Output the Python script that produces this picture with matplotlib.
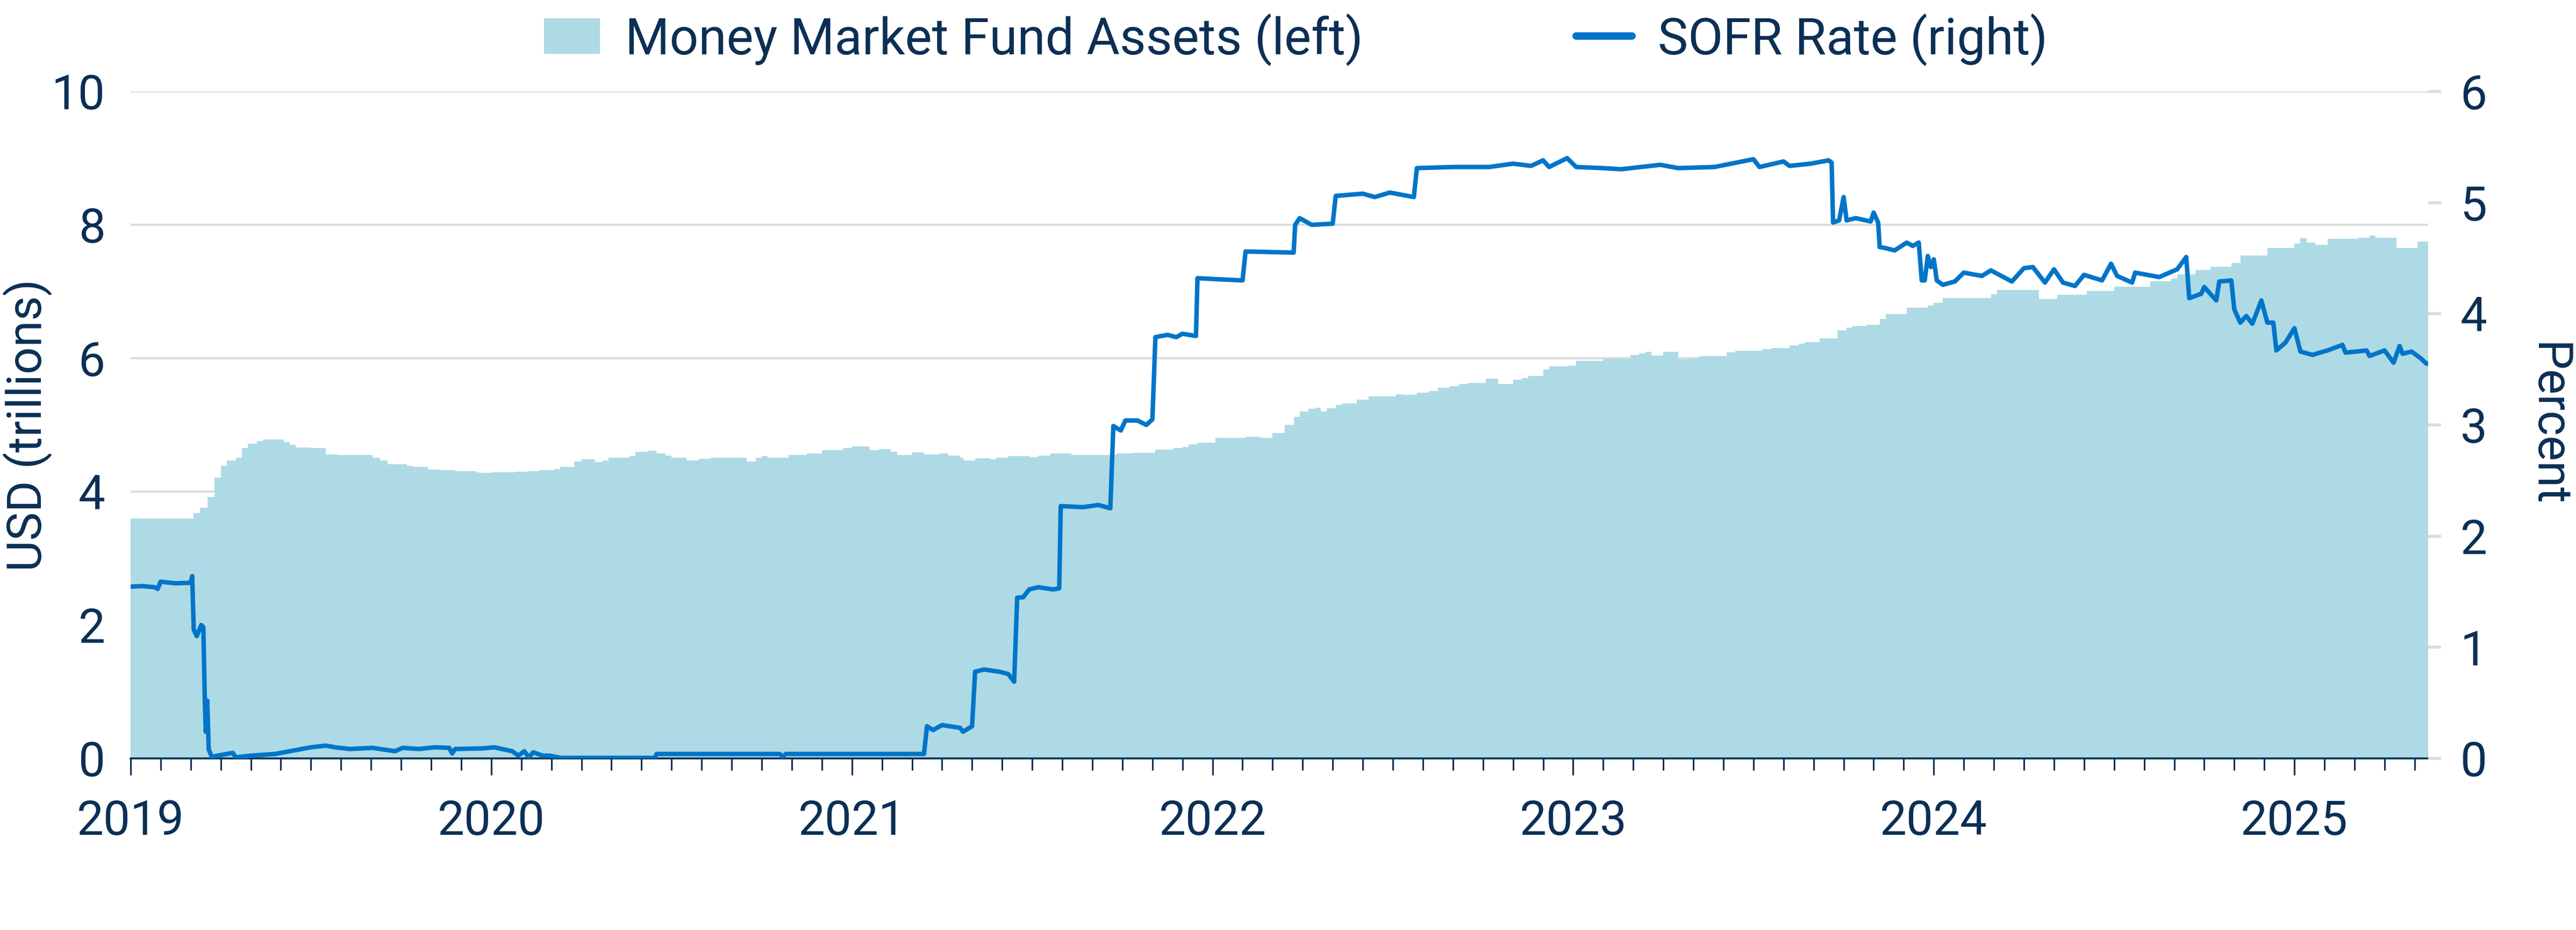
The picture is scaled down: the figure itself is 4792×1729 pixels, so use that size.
import numpy as np
import matplotlib
matplotlib.use("Agg")
import matplotlib.pyplot as plt
from matplotlib.ticker import FixedLocator, MultipleLocator

plt.rcParams['font.family'] = ['Roboto', 'DejaVu Sans']

NAVY = '#0b2f55'
AREA = '#aedae5'
LINE = '#0075c9'
GRID = '#dcdcdc'

# x values are months since Jan 2019
mmf_month = [0.0, 2.1, 2.3, 2.55, 2.8, 3.0, 3.2, 3.5, 3.7, 3.9, 4.2, 4.4, 5.1, 5.3, 5.5,
             6.0, 6.5, 6.9, 8.05, 8.3, 8.55, 9.2, 9.4, 9.9, 10.3, 10.8, 11.5, 11.6,
             12.0, 12.8, 13.2, 13.6, 14.1, 14.3, 14.75, 15.0, 15.45, 15.7, 15.9, 16.6,
             16.8, 17.2, 17.5, 17.8, 18.0, 18.5, 18.9, 19.3, 20.5, 20.8, 21.0, 21.2,
             21.9, 22.5, 23.0, 23.7, 24.0, 24.6, 24.9, 25.3, 25.5, 26.0, 26.4, 26.9,
             27.2, 27.6, 27.7, 28.1, 28.6, 28.8, 29.2, 29.9, 30.2, 30.6, 31.3, 32.8,
             33.3, 34.1, 34.7, 35.0, 35.2, 35.5, 36.1, 37.1, 37.6, 38.0, 38.4, 38.7,
             38.9, 39.2, 39.4, 39.6, 39.8, 40.1, 40.3, 40.8, 41.2, 42.1, 42.3, 42.8,
             43.2, 43.5, 43.9, 44.2, 44.5, 45.1, 45.5, 46.0, 46.3, 46.5, 47.0, 47.2,
             47.8, 48.1, 49.0, 49.9, 50.2, 50.4, 50.6, 51.0, 51.5, 51.9, 52.2, 53.1,
             53.4, 54.3, 54.6, 55.2, 55.5, 55.7, 56.2, 56.8, 57.1, 57.3, 57.75, 58.2,
             58.4, 59.1, 59.8, 60.0, 60.3, 61.9, 62.1, 63.5, 64.1, 65.1, 66.0, 67.2,
             67.9, 68.1, 68.7, 69.2, 69.9, 70.2, 71.1, 72.0, 72.2, 72.4, 72.7, 73.1,
             74.1, 74.5, 74.7, 75.4, 76.1, 76.45]
mmf_assets = [3.60, 3.68, 3.76, 3.92, 4.21, 4.39, 4.47, 4.51, 4.65, 4.72, 4.76, 4.78, 4.74, 4.70, 4.66,
              4.65, 4.56, 4.55, 4.51, 4.47, 4.41, 4.39, 4.37, 4.33, 4.32, 4.31, 4.29, 4.28,
              4.29, 4.30, 4.31, 4.32, 4.34, 4.37, 4.45, 4.48, 4.44, 4.47, 4.51, 4.53,
              4.60, 4.61, 4.57, 4.54, 4.51, 4.47, 4.49, 4.51, 4.45, 4.51, 4.53, 4.51,
              4.55, 4.57, 4.62, 4.65, 4.68, 4.62, 4.64, 4.60, 4.55, 4.59, 4.56, 4.57,
              4.54, 4.51, 4.47, 4.50, 4.48, 4.51, 4.53, 4.52, 4.54, 4.57, 4.55, 4.57,
              4.58, 4.63, 4.65, 4.67, 4.71, 4.73, 4.81, 4.82, 4.81, 4.88, 5.00, 5.12,
              5.20, 5.24, 5.26, 5.20, 5.25, 5.30, 5.32, 5.38, 5.43, 5.46, 5.45, 5.48,
              5.51, 5.56, 5.58, 5.61, 5.63, 5.69, 5.61, 5.68, 5.70, 5.73, 5.83, 5.88,
              5.89, 5.96, 5.99, 6.05, 6.07, 6.10, 6.04, 6.10, 5.98, 6.00, 6.03, 6.09,
              6.11, 6.14, 6.15, 6.19, 6.22, 6.24, 6.30, 6.42, 6.46, 6.48, 6.50, 6.59,
              6.66, 6.76, 6.79, 6.83, 6.90, 6.96, 7.02, 6.89, 6.95, 7.01, 7.07, 7.15,
              7.19, 7.26, 7.32, 7.37, 7.43, 7.54, 7.65, 7.72, 7.80, 7.73, 7.70, 7.79,
              7.81, 7.84, 7.81, 7.65, 7.75, 7.75]

sofr_month = [0.0, 0.4, 0.8, 0.9, 1.0, 1.5, 2.0, 2.05, 2.1, 2.2, 2.35, 2.42, 2.47, 2.5, 2.55,
              2.6, 2.7, 3.4, 3.5, 4.0, 4.8, 5.4, 6.0, 6.5, 6.8, 7.3, 8.05, 8.8, 9.05, 9.6,
              10.1, 10.6, 10.7, 10.8, 11.7, 12.1, 12.7, 12.9, 13.1, 13.25, 13.4, 13.7,
              13.95, 14.3, 17.45, 17.5, 21.6, 21.7, 21.8, 26.4, 26.5, 26.7, 27.0, 27.6,
              27.7, 28.0, 28.1, 28.4, 28.9, 29.2, 29.4, 29.5, 29.7, 29.9, 30.2, 30.7,
              30.9, 30.95, 31.7, 32.2, 32.6, 32.7, 32.95, 33.1, 33.5, 33.8, 34.0, 34.1,
              34.5, 34.8, 35.0, 35.45, 35.5, 36.2, 37.0, 37.1, 38.7, 38.75, 38.9, 39.3,
              40.0, 40.1, 41.0, 41.4, 41.9, 42.7, 42.8, 44.0, 45.2, 46.0, 46.6, 47.0,
              47.2, 47.8, 48.1, 49.0, 49.6, 50.9, 51.5, 52.7, 54.0, 54.2, 55.0, 55.2,
              55.9, 56.5, 56.6, 56.65, 56.85, 57.0, 57.1, 57.4, 57.9, 58.0, 58.15, 58.2,
              58.4, 58.7, 59.1, 59.3, 59.5, 59.6, 59.7, 59.8, 59.9, 60.0, 60.1, 60.3,
              60.7, 61.0, 61.6, 61.9, 62.6, 63.0, 63.3, 63.7, 64.0, 64.3, 64.7, 65.0,
              65.6, 65.9, 66.1, 66.6, 66.7, 67.5, 68.1, 68.4, 68.5, 68.9, 69.0, 69.4,
              69.5, 69.9, 70.0, 70.2, 70.4, 70.6, 70.9, 71.1, 71.3, 71.4, 71.7, 72.0,
              72.2, 72.6, 73.1, 73.6, 73.7, 74.4, 74.5, 75.0, 75.3, 75.5, 75.6, 75.9,
              76.2, 76.4]
sofr_rate = [1.545, 1.55, 1.54, 1.525, 1.59, 1.575, 1.58, 1.64, 1.16, 1.10, 1.20, 1.18, 0.52, 0.24, 0.52,
             0.08, 0.015, 0.05, 0.01, 0.025, 0.04, 0.07, 0.10, 0.115, 0.10, 0.085, 0.095, 0.065, 0.095, 0.085,
             0.10, 0.095, 0.045, 0.085, 0.09, 0.10, 0.065, 0.025, 0.065, 0.01, 0.055, 0.025,
             0.025, 0.005, 0.005, 0.04, 0.04, 0.015, 0.04, 0.04, 0.29, 0.255, 0.30, 0.275,
             0.24, 0.29, 0.78, 0.80, 0.78, 0.76, 0.69, 1.445, 1.45, 1.52, 1.54, 1.52,
             1.53, 2.27, 2.26, 2.28, 2.25, 2.99, 2.95, 3.04, 3.04, 3.00, 3.05, 3.79,
             3.81, 3.79, 3.82, 3.80, 4.32, 4.31, 4.30, 4.56, 4.55, 4.80, 4.86, 4.80,
             4.81, 5.06, 5.08, 5.05, 5.09, 5.05, 5.31, 5.32, 5.32, 5.35, 5.33, 5.38,
             5.32, 5.40, 5.32, 5.31, 5.30, 5.34, 5.31, 5.32, 5.39, 5.32, 5.37, 5.33,
             5.35, 5.38, 5.36, 4.82, 4.84, 5.05, 4.84, 4.86, 4.83, 4.91, 4.82, 4.60,
             4.59, 4.57, 4.64, 4.61, 4.64, 4.30, 4.30, 4.52, 4.42, 4.49, 4.30, 4.26,
             4.29, 4.37, 4.34, 4.39, 4.29, 4.41, 4.42, 4.28, 4.40, 4.28, 4.25, 4.35,
             4.30, 4.45, 4.34, 4.28, 4.37, 4.33, 4.40, 4.51, 4.14, 4.18, 4.24, 4.12,
             4.29, 4.30, 4.04, 3.92, 3.98, 3.91, 4.12, 3.92, 3.92, 3.67, 3.74, 3.87,
             3.66, 3.63, 3.67, 3.72, 3.65, 3.67, 3.62, 3.67, 3.56, 3.71, 3.64, 3.66,
             3.60, 3.55]

year_labels = ['2019', '2020', '2021', '2022', '2023', '2024', '2025']

fig = plt.figure(figsize=(47.92, 17.29), dpi=100)
ax = fig.add_axes([0.0507, 0.1845, 0.8919, 0.7172])
ax2 = ax.twinx()

ax.fill_between(mmf_month, mmf_assets, 0, step='post', color=AREA, linewidth=0,
                label='Money Market Fund Assets (left)')
ax2.plot(sofr_month, sofr_rate, color=LINE, linewidth=6, solid_joinstyle='round',
         solid_capstyle='round', label='SOFR Rate (right)')

ax.set_xlim(0, mmf_month[-1])
ax.set_ylim(0, 10)
ax2.set_ylim(0, 6)
ax.set_yticks([0, 2, 4, 6, 8, 10])
ax2.set_yticks([0, 1, 2, 3, 4, 5, 6])
ax.yaxis.grid(True, color=GRID, linewidth=3)
ax.set_axisbelow(True)

ax.xaxis.set_major_locator(FixedLocator([12 * i for i in range(len(year_labels))]))
ax.set_xticklabels(year_labels)
ax.xaxis.set_minor_locator(MultipleLocator(1))

for s in ['top', 'left', 'right']:
    ax.spines[s].set_visible(False)
    ax2.spines[s].set_visible(False)
ax2.spines['bottom'].set_visible(False)
ax.spines['bottom'].set_color(NAVY)
ax.spines['bottom'].set_linewidth(2.6)
ax.spines['bottom'].set_zorder(5)

fs = 64
ax.tick_params(axis='x', which='major', length=22, width=2.2, color=NAVY, pad=32,
               labelsize=fs, labelcolor=NAVY)
ax.tick_params(axis='x', which='minor', length=16, width=2.2, color=NAVY)
ax.tick_params(axis='y', length=0, pad=34, labelsize=fs, labelcolor=NAVY)
ax2.tick_params(axis='y', length=17, width=4, color=GRID, pad=26, labelsize=fs,
                labelcolor=NAVY)

ax.set_ylabel('USD (trillions)', fontsize=fs, color=NAVY)
ax.yaxis.set_label_coords(-0.034, 0.5)
ax2.set_ylabel('Percent', fontsize=fs, color=NAVY, rotation=270, va='bottom')
ax2.yaxis.set_label_coords(1.042, 0.5)

h1, l1 = ax.get_legend_handles_labels()
h2, l2 = ax2.get_legend_handles_labels()
leg = fig.legend(h1 + h2, l1 + l2, loc='center', bbox_to_anchor=(0.503, 0.958), ncol=2,
                 frameon=False, fontsize=68, handlelength=1.1, handleheight=0.7,
                 columnspacing=4.2, handletextpad=0.5)
for t in leg.get_texts():
    t.set_color(NAVY)
leg.get_lines()[0].set_linewidth(10)

fig.savefig('out.png', dpi=100)
